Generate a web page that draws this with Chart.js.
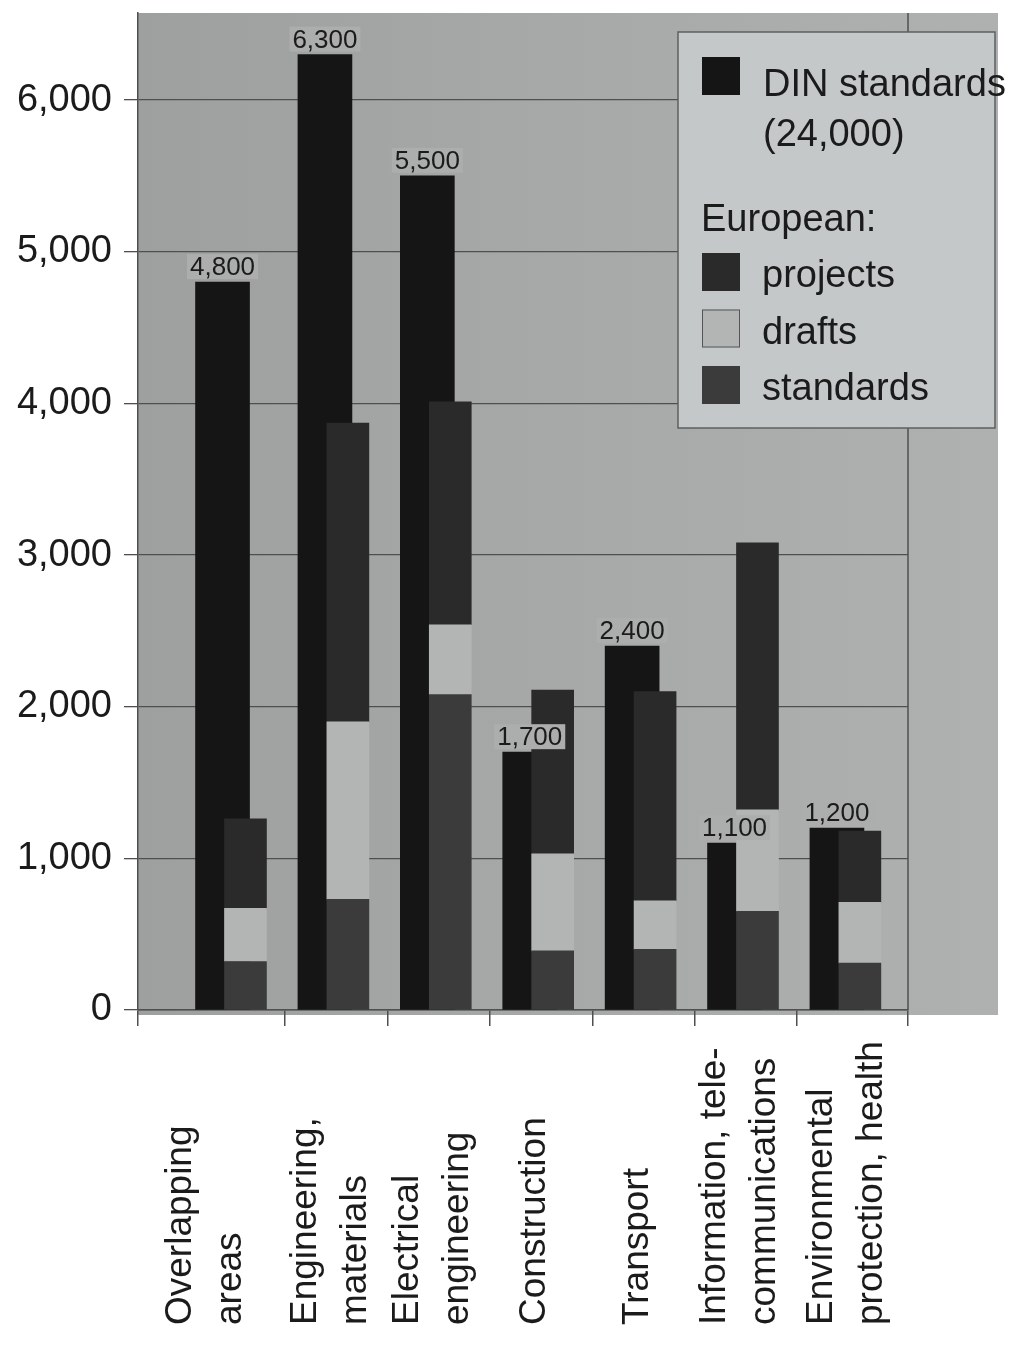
<!DOCTYPE html>
<html>
<head>
<meta charset="utf-8">
<script src="https://cdn.jsdelivr.net/npm/chart.js@4.4.1/dist/chart.umd.min.js"></script>
<style>
  html, body { margin: 0; padding: 0; background: #ffffff; }
  #c { display: block; }
</style>
</head>
<body>
<canvas id="c" width="1020" height="1348"></canvas>
<script>
// Categories (each entry = the lines of one rotated axis label)
const categories = [
  ['Overlapping', 'areas'],
  ['Engineering,', 'materials'],
  ['Electrical', 'engineering'],
  ['Construction'],
  ['Transport'],
  ['Information, tele-', 'communications'],
  ['Environmental', 'protection, health']
];

// DIN standards per field
const dinStandards = [4800, 6300, 5500, 1700, 2400, 1100, 1200];

// European work per field (stacked: standards, drafts, projects)
const euStandards = [320, 730, 2080, 390, 400, 650, 310];
const euDrafts    = [350, 1170, 460, 640, 320, 670, 400];
const euProjects  = [590, 1970, 1470, 1080, 1380, 1760, 470];

// Value axis ticks
const yTicks = [0, 1000, 2000, 3000, 4000, 5000, 6000];

// Legend texts
const dinLegendLines = ['DIN standards', '(24,000)'];
const euLegendHeader = 'European:';

const FONT = '"Liberation Sans", Arial, Helvetica, sans-serif';
const TEXT = '#1b1b1b';
const GRID = '#4f4f4f';
const LEGEND_BG = '#c4c8c8';

const COLORS = {
  din: '#151515',
  standards: '#3b3b3b',
  drafts: '#b3b5b5',
  projects: '#2a2a2a'
};

const idx = categories.map((_, i) => i);
const points = values => values.map((v, i) => ({ x: idx[i], y: v }));

// Horizontal layout of the category axis (in category units)
const X_MIN = -0.9375, X_MAX = 6.582, PAIR_SHIFT = 0.112;

const datasets = [
  { label: dinLegendLines.join(' '), data: points(dinStandards), xAxisID: 'xDin', stack: 'din',
    backgroundColor: COLORS.din, barThickness: 54, grouped: false, order: 1 },
  { label: 'standards', data: points(euStandards), xAxisID: 'xEu', stack: 'eu',
    backgroundColor: COLORS.standards, barThickness: 42, grouped: false },
  { label: 'drafts', data: points(euDrafts), xAxisID: 'xEu', stack: 'eu',
    backgroundColor: COLORS.drafts, barThickness: 42, grouped: false },
  { label: 'projects', data: points(euProjects), xAxisID: 'xEu', stack: 'eu',
    backgroundColor: COLORS.projects, barThickness: 42, grouped: false }
];

const decor = {
  id: 'decor',
  beforeDraw(chart) {
    const { ctx, chartArea: a } = chart;
    ctx.save();
    ctx.fillStyle = '#ffffff';
    ctx.fillRect(0, 0, chart.width, chart.height);
    const g = ctx.createLinearGradient(a.left, 0, a.right + 90, 0);
    g.addColorStop(0, '#9e9f9f');
    g.addColorStop(0.5, '#a7a8a8');
    g.addColorStop(1, '#afb1b1');
    ctx.fillStyle = g;
    ctx.fillRect(a.left, a.top, a.right + 90 - a.left, a.bottom + 5 - a.top);
    ctx.restore();
  },
  afterDatasetsDraw(chart) {
    const { ctx } = chart;
    const meta = chart.getDatasetMeta(0);
    ctx.save();
    ctx.font = '26px ' + FONT;
    ctx.textAlign = 'center';
    ctx.textBaseline = 'alphabetic';
    meta.data.forEach((bar, i) => {
      const txt = dinStandards[i].toLocaleString('en-US');
      const w = ctx.measureText(txt).width;
      const by = bar.y - 7;
      ctx.fillStyle = '#acadad';
      ctx.fillRect(bar.x - w / 2 - 3, by - 21, w + 6, 25);
      ctx.fillStyle = TEXT;
      ctx.fillText(txt, bar.x, by);
    });
    ctx.restore();
  },
  afterDraw(chart) {
    const { ctx, chartArea: a } = chart;
    ctx.save();
    // right border of the plot area
    ctx.strokeStyle = GRID;
    ctx.lineWidth = 1.5;
    ctx.beginPath();
    ctx.moveTo(a.right, a.top);
    ctx.lineTo(a.right, a.bottom);
    ctx.stroke();

    // rotated category labels, centred in each band between tick marks
    const xs = chart.scales.x;
    const px = xs.ticks.map(t => xs.getPixelForValue(t.value));
    ctx.font = '37px ' + FONT;
    ctx.fillStyle = TEXT;
    ctx.textAlign = 'left';
    ctx.textBaseline = 'middle';
    const baseY = chart.height - 23;
    categories.forEach((lines, i) => {
      const cx = (px[i] + px[i + 1]) / 2 - 6;
      lines.forEach((ln, j) => {
        const lx = cx + (j - (lines.length - 1) / 2) * 50;
        ctx.save();
        ctx.translate(lx, baseY);
        ctx.rotate(-Math.PI / 2);
        ctx.fillText(ln, 0, 0);
        ctx.restore();
      });
    });

    // legend box
    const L = { x: 678, y: 32, w: 317, h: 396 };
    ctx.fillStyle = LEGEND_BG;
    ctx.fillRect(L.x, L.y, L.w, L.h);
    ctx.strokeStyle = '#5e6060';
    ctx.lineWidth = 1.5;
    ctx.strokeRect(L.x, L.y, L.w, L.h);

    ctx.font = '38px ' + FONT;
    ctx.textAlign = 'left';
    ctx.textBaseline = 'alphabetic';
    const sw = 38;
    const swX = L.x + 24;
    const txX = L.x + 85;

    // DIN entry
    const din = chart.data.datasets[0];
    ctx.fillStyle = din.backgroundColor;
    ctx.fillRect(swX, L.y + 25, sw, sw);
    ctx.fillStyle = TEXT;
    dinLegendLines.forEach((ln, j) => ctx.fillText(ln, txX, L.y + 64 + j * 50));

    // European group
    ctx.fillText(euLegendHeader, L.x + 23, L.y + 199);
    const eu = chart.data.datasets.slice(1).reverse();
    eu.forEach((ds, j) => {
      const top = L.y + 221 + j * 56.5;
      ctx.fillStyle = ds.backgroundColor;
      ctx.fillRect(swX, top, sw, sw);
      if (ds.label === 'drafts') {
        ctx.strokeStyle = '#555';
        ctx.lineWidth = 1;
        ctx.strokeRect(swX + 0.5, top + 0.5, sw - 1, sw - 1);
      }
      ctx.fillStyle = TEXT;
      ctx.fillText(ds.label, txX - 1, top + 34);
    });
    ctx.restore();
  }
};

const noPad = s => { s.paddingTop = 0; s.paddingBottom = 0; s.paddingLeft = 0; s.paddingRight = 0; };

new Chart(document.getElementById('c'), {
  type: 'bar',
  data: { datasets },
  plugins: [decor],
  options: {
    responsive: false,
    animation: false,
    events: [],
    layout: { padding: { top: 13, right: 112, bottom: 0, left: 0 } },
    plugins: { legend: { display: false }, tooltip: { enabled: false } },
    scales: {
      x: {
        type: 'linear', position: 'bottom', min: X_MIN, max: X_MAX, offset: false,
        afterBuildTicks: s => {
          s.ticks = [{ value: X_MIN }, ...idx.slice(0, -1).map(i => ({ value: i + 0.5 })), { value: X_MAX }];
        },
        afterFit: s => { s.height = 338; noPad(s); },
        ticks: { callback: () => '', maxRotation: 0, autoSkip: false },
        grid: { offset: false, drawOnChartArea: false, drawTicks: true, tickLength: 16, color: GRID, lineWidth: 1.5 },
        border: { display: true, color: GRID, width: 1.5 }
      },
      xDin: {
        type: 'linear', display: false, position: 'bottom', offset: false,
        grid: { offset: false },
        min: X_MIN + PAIR_SHIFT, max: X_MAX + PAIR_SHIFT,
        afterBuildTicks: s => { s.ticks = idx.map(v => ({ value: v })); }
      },
      xEu: {
        type: 'linear', display: false, position: 'bottom', offset: false,
        grid: { offset: false },
        min: X_MIN - PAIR_SHIFT, max: X_MAX - PAIR_SHIFT,
        afterBuildTicks: s => { s.ticks = idx.map(v => ({ value: v })); }
      },
      y: {
        type: 'linear', stacked: true, min: 0, max: 6574,
        afterBuildTicks: s => { s.ticks = yTicks.map(v => ({ value: v })); },
        afterFit: s => { s.width = 138; noPad(s); },
        ticks: {
          callback: v => v.toLocaleString('en-US'),
          font: { family: FONT, size: 38 },
          color: TEXT,
          padding: 12
        },
        grid: { color: GRID, lineWidth: 1.3, tickLength: 14, drawTicks: true },
        border: { display: true, color: GRID, width: 1.5 }
      }
    }
  }
});
</script>
</body>
</html>
